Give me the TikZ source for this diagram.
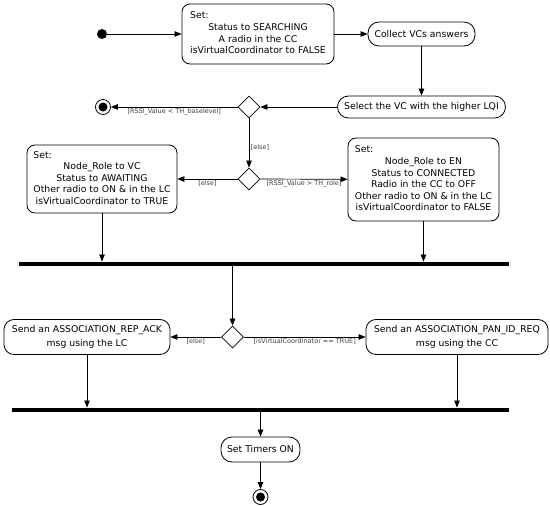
\documentclass[tikz,border=0pt]{standalone}
\usepackage{fontspec}
\setmainfont{DejaVu Sans}
\usetikzlibrary{arrows.meta,shapes.geometric}

\begin{document}
\begin{tikzpicture}[x=1pt,y=-1pt,>={Triangle[length=7pt,width=5.5pt]},
  action/.style={draw,line width=0.8pt,rounded corners=8pt,inner sep=4pt,align=center,font=\fontsize{9.3}{11.6}\selectfont},
  pill/.style={action,rounded corners=11pt},
  decision/.style={draw,diamond,line width=0.8pt,minimum width=22pt,minimum height=22pt,inner sep=0pt},
  guard/.style={font=\fontsize{6.5}{7.5}\selectfont,text=black!75,inner sep=1.5pt},
  bar/.style={fill=black,inner sep=0pt,minimum height=4.5pt},
  initial/.style={circle,fill=black,minimum size=10pt,inner sep=0pt},
  final/.style={circle,draw,line width=0.8pt,minimum size=15pt,inner sep=0pt,
    path picture={\fill (path picture bounding box.center) circle (4.5pt);}},
  flow/.style={->,line width=0.7pt}]
\useasboundingbox (0,0) rectangle (550,506);
% top row
\node[initial] (start) at (102,34) {};
\node[action,minimum width=152pt,minimum height=60pt] (search) at (258,34)
  {\begin{tabular}{@{}c@{}}\multicolumn{1}{@{}l@{}}{Set:}\\Status to SEARCHING\\A radio in the CC\\isVirtualCoordinator to FALSE\end{tabular}};
\node[pill,minimum width=107pt,minimum height=24pt] (collect) at (421.5,34) {Collect VCs answers};
\node[pill,minimum width=168pt,minimum height=22pt] (select) at (421.5,107) {Select the VC with the higher LQI};
\node[decision] (d1) at (249,107) {};
\node[final] (end1) at (103,107) {};
% role decision
\node[decision] (d2) at (249,179) {};
\node[action,minimum width=150pt,minimum height=68pt] (vc) at (102,179)
  {\begin{tabular}{@{}c@{}}\multicolumn{1}{@{}l@{}}{Set:}\\Node\_Role to VC\\Status to AWAITING\\Other radio to ON \& in the LC\\isVirtualCoordinator to TRUE\end{tabular}};
\node[action,minimum width=151pt,minimum height=83pt] (en) at (423.5,179.5)
  {\begin{tabular}{@{}c@{}}\multicolumn{1}{@{}l@{}}{Set:}\\Node\_Role to EN\\Status to CONNECTED\\Radio in the CC to OFF\\Other radio to ON \& in the LC\\isVirtualCoordinator to FALSE\end{tabular}};
\node[bar,minimum width=490pt] (bar1) at (264,264) {};
% association
\node[decision] (d3) at (232.5,337) {};
\node[action,rounded corners=10pt,minimum width=166pt,minimum height=35pt] (repack) at (87,337)
  {Send an ASSOCIATION\_REP\_ACK\\[2pt]msg using the LC};
\node[action,rounded corners=10pt,minimum width=182pt,minimum height=35pt] (panid) at (457,337)
  {Send an ASSOCIATION\_PAN\_ID\_REQ\\[2pt]msg using the CC};
\node[bar,minimum width=497pt] (bar2) at (260.5,410) {};
\node[pill,minimum width=79pt,minimum height=25pt] (timers) at (260.5,449.5) {Set Timers ON};
\node[final] (end2) at (260.5,497) {};

\draw[flow] (start) -- (search);
\draw[flow] (search) -- (collect);
\draw[flow] (collect) -- (select);
\draw[flow] (select) -- (d1);
\draw[flow] (d1) -- node[guard,below]{[RSSI\_Value < TH\_baselevel]} (end1);
\draw[flow] (d1) -- node[guard,right,pos=0.6]{[else]} (d2);
\draw[flow] (d2) -- node[guard,below]{[else]} (vc);
\draw[flow] (d2) -- node[guard,below]{[RSSI\_Value > TH\_role]} (en);
\draw[flow] (vc) -- (vc |- bar1.north);
\draw[flow] (en) -- (en |- bar1.north);
\draw[flow] (bar1.south -| d3.north) -- (d3.north);
\draw[flow] (d3) -- node[guard,below]{[else]} (repack);
\draw[flow] (d3) -- node[guard,below]{[isVirtualCoordinator == TRUE]} (panid);
\draw[flow] (repack) -- (repack |- bar2.north);
\draw[flow] (panid) -- (panid |- bar2.north);
\draw[flow] (bar2.south -| timers.north) -- (timers.north);
\draw[flow] (timers) -- (end2);
\end{tikzpicture}
\end{document}
